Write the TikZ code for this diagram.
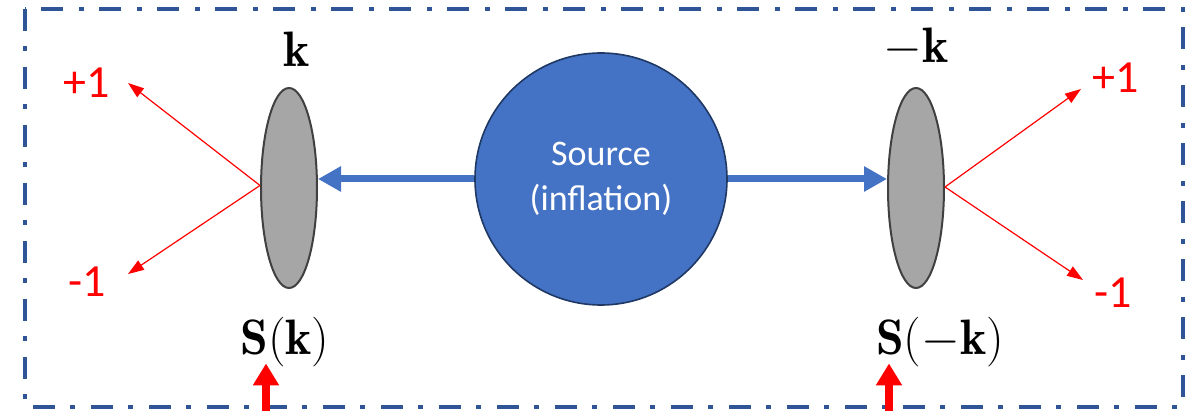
\documentclass[tikz,border=0pt]{standalone}
\usepackage{fontspec}
\newfontfamily\calibri{Carlito}
\usetikzlibrary{arrows.meta, positioning, shapes.geometric}
\definecolor{framecolor}{RGB}{47, 85, 151}
\definecolor{sourcecolor}{RGB}{68, 114, 196}
\definecolor{sourceedge}{RGB}{31, 56, 100}
\definecolor{disccolor}{RGB}{166, 166, 166}
\definecolor{discedge}{RGB}{64, 64, 64}

\begin{document}
\begin{tikzpicture}[
    x=0.5pt, y=-0.5pt,
    boxline/.style={draw=framecolor, line width=2pt, dash pattern=on 11pt off 7.5pt on 2.5pt off 8pt},
    source/.style={circle, draw=sourceedge, line width=0.8pt, fill=sourcecolor, minimum size=126pt, inner sep=0pt, text=white, font=\calibri\fontsize{18}{22.5}\selectfont, align=center},
    disc/.style={ellipse, draw=discedge, line width=1pt, fill=disccolor, minimum width=28pt, minimum height=100pt, inner sep=0pt},
    vec/.style={font=\Huge, inner sep=2pt},
    sign/.style={text=red, font=\calibri\fontsize{23}{28}\selectfont, inner sep=0pt},
    push/.style={-{Triangle[length=11.5pt, width=12pt]}, draw=sourcecolor, line width=3.5pt},
    ray/.style={-{Triangle[length=8pt, width=5.5pt]}, draw=red, line width=0.6pt},
    pointer/.style={-{Triangle[length=11pt, width=12.5pt]}, draw=red, line width=4pt}
]
    \path[use as bounding box, clip] (0,0) rectangle (1196,411);
    \draw[boxline] (25,9) rectangle (1183,407);

    % Main entities
    \node[source] (src) at (601,179) {Source\\(inflation)};
    \node[disc] (lft) at (289,188) {};
    \node[disc] (rgt) at (916,188) {};

    % Wave vectors
    \node[vec, above=8pt of lft, xshift=4pt] (kL) {$\mathbf{k}$};
    \node[vec, above=8pt of rgt] (kR) {$-\mathbf{k}$};
    \node[vec, below=12pt of lft, xshift=-2pt] (SL) {$\mathbf{S}(\mathbf{k})$};
    \node[vec, below=12pt of rgt, xshift=12pt] (SR) {$\mathbf{S}(-\mathbf{k})$};

    % Helicities
    \coordinate (upL) at (128,83);
    \coordinate (dnL) at (128,274);
    \coordinate (upR) at (1081,89);
    \coordinate (dnR) at (1083,280);
    \node[sign] (pL) at (87,83) {+1};
    \node[sign] (mL) at (87,282) {-1};
    \node[sign] (pR) at (1116,78) {+1};
    \node[sign] (mR) at (1113,293) {-1};
    \coordinate (pinL) at (266,430);
    \coordinate (pinR) at (889,430);

    % Relationships
    \draw[push] (src.west) -- (src.west -| lft.east);
    \draw[push] (src.east) -- (src.east -| rgt.west);
    \draw[ray] (lft.175) -- (upL);
    \draw[ray] (lft.175) -- (dnL);
    \draw[ray] (rgt.2) -- (upR);
    \draw[ray] (rgt.2) -- (dnR);
    \draw[pointer, shorten >=-4pt] (pinL) -- (pinL |- SL.south);
    \draw[pointer, shorten >=-4pt] (pinR) -- (pinR |- SR.south);

\end{tikzpicture}
\end{document}
